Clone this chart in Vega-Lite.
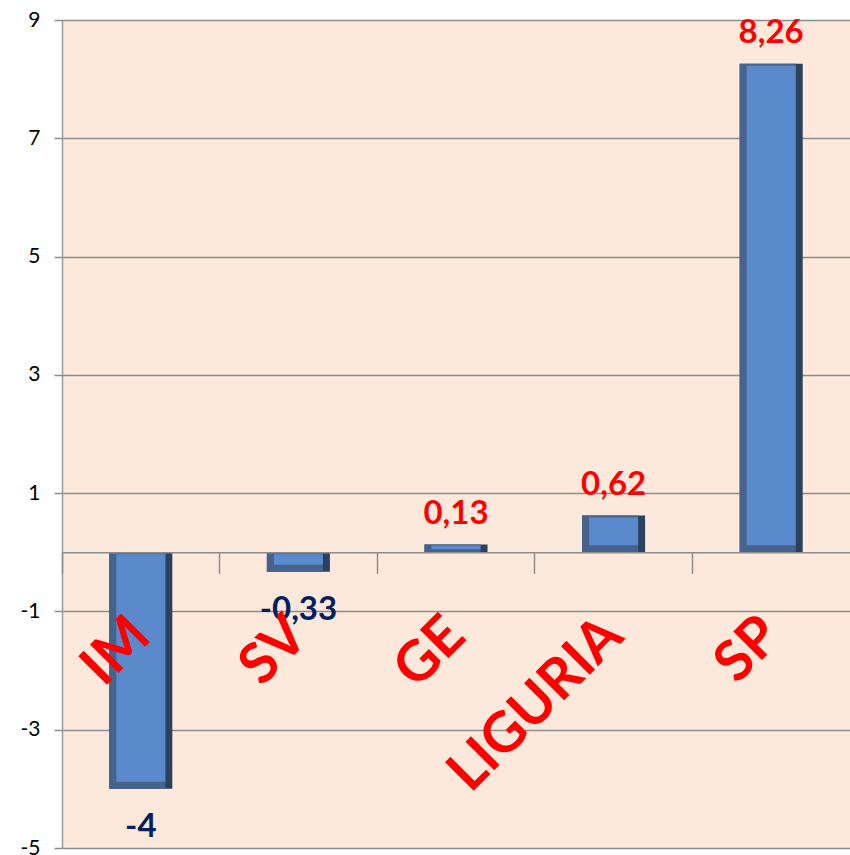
{
  "$schema": "https://vega.github.io/schema/vega-lite/v6.json",
  "width": 788,
  "height": 828,
  "autosize": "none",
  "padding": {"left": 62, "top": 20, "right": 0, "bottom": 7},
  "background": "white",
  "config": {"view": {"fill": "#FCE9DB", "stroke": null}, "font": "Lato"},
  "data": {"values": [
    {"cat": "IM", "v": -4, "label": "-4"},
    {"cat": "SV", "v": -0.33, "label": "-0,33"},
    {"cat": "GE", "v": 0.13, "label": "0,13"},
    {"cat": "LIGURIA", "v": 0.62, "label": "0,62"},
    {"cat": "SP", "v": 8.26, "label": "8,26"}
  ]},
  "encoding": {
    "x": {
      "field": "cat", "type": "nominal", "sort": null,
      "scale": {"paddingInner": 0, "paddingOuter": 0},
      "axis": {
        "title": null, "orient": "bottom", "offset": -295.7, "bandPosition": 0, "zindex": 1,
        "domainColor": "#8C8C8C", "domainWidth": 1.5,
        "tickColor": "#8C8C8C", "tickWidth": 1.5, "tickSize": 21,
        "labelAngle": -45, "labelAlign": "right", "labelBaseline": "middle",
        "labelFontSize": 56, "labelFontWeight": "bold", "labelColor": "#FF0000", "labelFont": "Lato",
        "labelPadding": 53, "labelOffset": 0, "labelOverlap": false, "labelLimit": 0,
        "labelFlush": false, "labelBound": false, "grid": false
      }
    },
    "y": {
      "field": "v", "type": "quantitative",
      "scale": {"domain": [-5, 9], "nice": false, "zero": false},
      "axis": {
        "title": null, "values": [-5, -3, -1, 1, 3, 5, 7, 9],
        "labelExpr": "'' + datum.value",
        "grid": true, "gridColor": "#8C8C8C", "gridWidth": 1.5,
        "domainColor": "#9A9A9A", "domainWidth": 1.5,
        "tickColor": "#8C8C8C", "tickSize": 8, "tickWidth": 1.5,
        "labelFontSize": 21, "labelColor": "#000000", "labelFont": "Lato", "labelPadding": 14
      }
    }
  },
  "layer": [
    {"mark": {"type": "bar", "width": {"band": 0.4}, "color": "#2C4160"}, "encoding": {"y2": {"datum": 0}}},
    {"mark": {"type": "bar", "width": {"band": 0.356}, "xOffset": -3.5, "color": "#45638C"}, "encoding": {"y2": {"datum": 0}}},
    {
      "transform": [{"filter": "datum.v > 0.3"}],
      "mark": {"type": "bar", "width": {"band": 0.311}, "color": "#5A8ACB", "yOffset": 2, "y2Offset": -7},
      "encoding": {"y2": {"datum": 0}}
    },
    {
      "transform": [{"filter": "datum.v > 0 && datum.v <= 0.3"}],
      "mark": {"type": "bar", "width": {"band": 0.311}, "color": "#5A8ACB", "yOffset": 1, "y2Offset": -3},
      "encoding": {"y2": {"datum": 0}}
    },
    {
      "transform": [{"filter": "datum.v < 0"}],
      "mark": {"type": "bar", "width": {"band": 0.311}, "color": "#5A8ACB", "yOffset": -7, "y2Offset": 2},
      "encoding": {"y2": {"datum": 0}}
    },
    {
      "transform": [{"filter": "datum.v > 0"}],
      "mark": {"type": "text", "baseline": "alphabetic", "dy": -21, "fontSize": 33, "fontWeight": "bold", "color": "#FF0000", "font": "Lato"},
      "encoding": {"text": {"field": "label"}}
    },
    {
      "transform": [{"filter": "datum.v < 0"}],
      "mark": {"type": "text", "baseline": "alphabetic", "dy": 48, "fontSize": 33, "fontWeight": "bold", "color": "#002060", "font": "Lato"},
      "encoding": {"text": {"field": "label"}}
    }
  ]
}
